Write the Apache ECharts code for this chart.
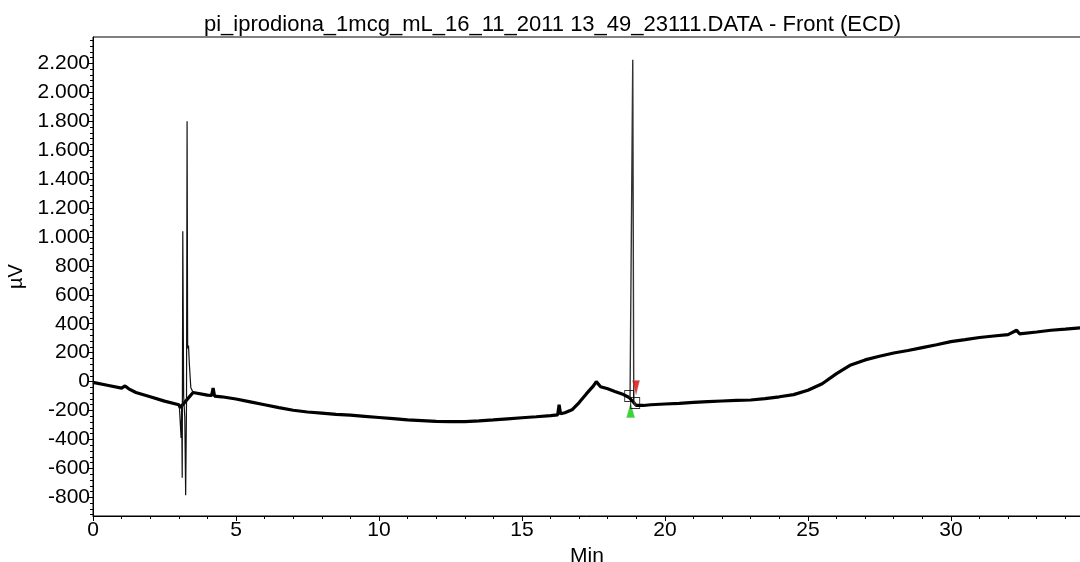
<!DOCTYPE html>
<html>
<head>
<meta charset="utf-8">
<script src="https://cdn.jsdelivr.net/npm/echarts@6/dist/echarts.min.js"></script>
<style>
  html, body { margin: 0; padding: 0; background: #fff; }
  #chart { width: 1080px; height: 562px; }
</style>
</head>
<body>
<div id="chart"></div>
<script>
// baseline trace (min, µV)
var baseTime = [0, 0.5, 1.0, 1.12, 1.25, 1.5, 2.0, 2.5, 3.0, 3.05,
  3.5, 4.0, 4.15, 4.2, 4.25, 4.5, 5.0, 5.5, 6.0, 6.5, 7.0, 7.5, 8.0, 8.5,
  9.0, 9.5, 10.0, 10.5, 11.0, 11.5, 12.0, 12.5, 13.0, 13.5, 14.0, 14.5,
  15.0, 15.5, 16.0, 16.25, 16.3, 16.35, 16.5, 16.75, 17.0, 17.25, 17.5, 17.6,
  17.75, 18.0, 18.25, 18.5, 18.75, 19.0, 19.25, 19.5, 20.0, 20.5, 21.0, 21.5,
  22.0, 22.5, 23.0, 23.5, 24.0, 24.5, 25.0, 25.5, 26.0, 26.5, 27.0, 27.5,
  28.0, 28.5, 29.0, 29.5, 30.0, 30.5, 31.0, 31.5, 32.0, 32.3, 32.4, 33.0,
  33.5, 34.0, 34.55];
var baseUv = [-5, -25, -45, -30, -50, -75, -105, -135, -160, -180,
  -75, -93, -95, -45, -100, -105, -120, -140, -160, -180, -198, -210, -218, -226,
  -232, -240, -248, -256, -265, -270, -275, -277, -276, -272, -265, -257,
  -250, -243, -235, -230, -160, -222, -215, -195, -145, -85, -30, 0,
  -35, -50, -68, -85, -110, -165, -165, -160, -155, -150, -143, -138,
  -134, -130, -127, -118, -105, -90, -60, -15, 55, 115, 150, 175,
  198, 215, 235, 255, 276, 290, 305, 315, 325, 355, 330, 343,
  355, 363, 372];

// solvent front spikes
var spike1Time = [3.02, 3.08, 3.10, 3.12, 3.14, 3.17, 3.21, 3.24, 3.27, 3.29, 3.31, 3.34, 3.37, 3.42, 3.5];
var spike1Uv = [-170, -390, -180, -665, 1040, -100, -250, -785, -150, 1800, 230, 250, 120, -40, -75];

// iprodione peak
var spike2Time = [18.78, 18.84, 18.875, 18.91, 18.96, 19.0];
var spike2Uv = [-112, -122, 2225, -135, -160, -165];

// integration markers
var startMark = [18.80, -200];
var endMark = [18.99, -41];
var boxMarks = [[18.75, -100], [18.96, -148]];

var yTicks = [-800, -600, -400, -200, 0, 200, 400, 600, 800, 1000, 1200, 1400, 1600, 1800, 2000, 2200];
var yMinor = [];
for (var m = -920; m <= 2380; m += 40) yMinor.push(m);

function pairs(xs, ys) {
  return xs.map(function (x, i) { return [x, ys[i]]; });
}

function fmtThousands(v) {
  var s = String(Math.abs(v));
  if (s.length > 3) s = s.slice(0, s.length - 3) + '.' + s.slice(s.length - 3);
  return (v < 0 ? '-' : '') + s;
}

var font = 'Liberation Sans, Arial, sans-serif';
var chart = echarts.init(document.getElementById('chart'));

var option = {
  animation: false,
  backgroundColor: '#fff',
  title: {
    text: 'pi_iprodiona_1mcg_mL_16_11_2011 13_49_23111.DATA - Front (ECD)',
    left: 199,
    top: 9,
    textStyle: { fontFamily: font, fontSize: 22, fontWeight: 'normal', color: '#000' }
  },
  grid: {
    left: 93, right: -1, top: 37, bottom: 46,
    outerBoundsMode: 'none',
    show: true, borderColor: '#000', borderWidth: 1
  },
  xAxis: {
    type: 'value',
    min: 0,
    max: 34.55,
    interval: 5,
    name: 'Min',
    nameLocation: 'middle',
    nameGap: 30,
    nameTextStyle: { fontFamily: font, fontSize: 21, color: '#000' },
    axisLine: { onZero: false, lineStyle: { color: '#000', width: 1 } },
    axisTick: { length: 5, lineStyle: { color: '#000' } },
    minorTick: { show: true, splitNumber: 5, length: 3, lineStyle: { color: '#000' } },
    axisLabel: { fontFamily: font, fontSize: 21, color: '#000', margin: 4, showMaxLabel: false },
    splitLine: { show: false }
  },
  yAxis: [{
    type: 'value',
    min: -929,
    max: 2382,
    name: 'µV',
    nameLocation: 'middle',
    nameGap: 63,
    nameRotate: 90,
    nameTextStyle: { fontFamily: font, fontSize: 20, color: '#000' },
    axisLine: { show: true, onZero: false, lineStyle: { color: '#000', width: 1 } },
    axisTick: { show: true, length: 5, customValues: yTicks, lineStyle: { color: '#000' } },
    axisLabel: {
      fontFamily: font, fontSize: 21, color: '#000', margin: 3,
      customValues: yTicks,
      formatter: function (v) { return fmtThousands(v); }
    },
    splitLine: { show: false }
  }, {
    type: 'value',
    min: -929,
    max: 2382,
    position: 'left',
    axisLine: { show: false },
    axisTick: { show: true, length: 3, customValues: yMinor, lineStyle: { color: '#000' } },
    axisLabel: { show: false },
    splitLine: { show: false }
  }],
  series: [
    {
      type: 'line',
      data: pairs(baseTime, baseUv),
      showSymbol: false,
      symbol: 'none',
      lineStyle: { color: '#000', width: 3.2 },
      z: 2
    },
    {
      type: 'line',
      data: pairs(spike1Time, spike1Uv),
      showSymbol: false,
      symbol: 'none',
      lineStyle: { color: '#111', width: 1.2 },
      z: 3
    },
    {
      type: 'line',
      data: pairs(spike2Time, spike2Uv),
      showSymbol: false,
      symbol: 'none',
      lineStyle: { color: '#333', width: 1.4 },
      z: 3
    },
    {
      type: 'scatter',
      data: [startMark],
      symbol: 'triangle',
      symbolSize: [8, 14],
      itemStyle: { color: '#00d000', borderColor: '#8a8', borderWidth: 0.5 },
      z: 4
    },
    {
      type: 'scatter',
      data: [endMark],
      symbol: 'triangle',
      symbolRotate: 180,
      symbolSize: [7, 14],
      itemStyle: { color: '#e00000', borderColor: '#a88', borderWidth: 0.5 },
      z: 4
    },
    {
      type: 'scatter',
      data: boxMarks,
      symbol: 'rect',
      symbolSize: [9, 11],
      itemStyle: { color: 'rgba(0,0,0,0)', borderColor: '#000', borderWidth: 1 },
      z: 5
    }
  ]
};

chart.setOption(option);
</script>
</body>
</html>
